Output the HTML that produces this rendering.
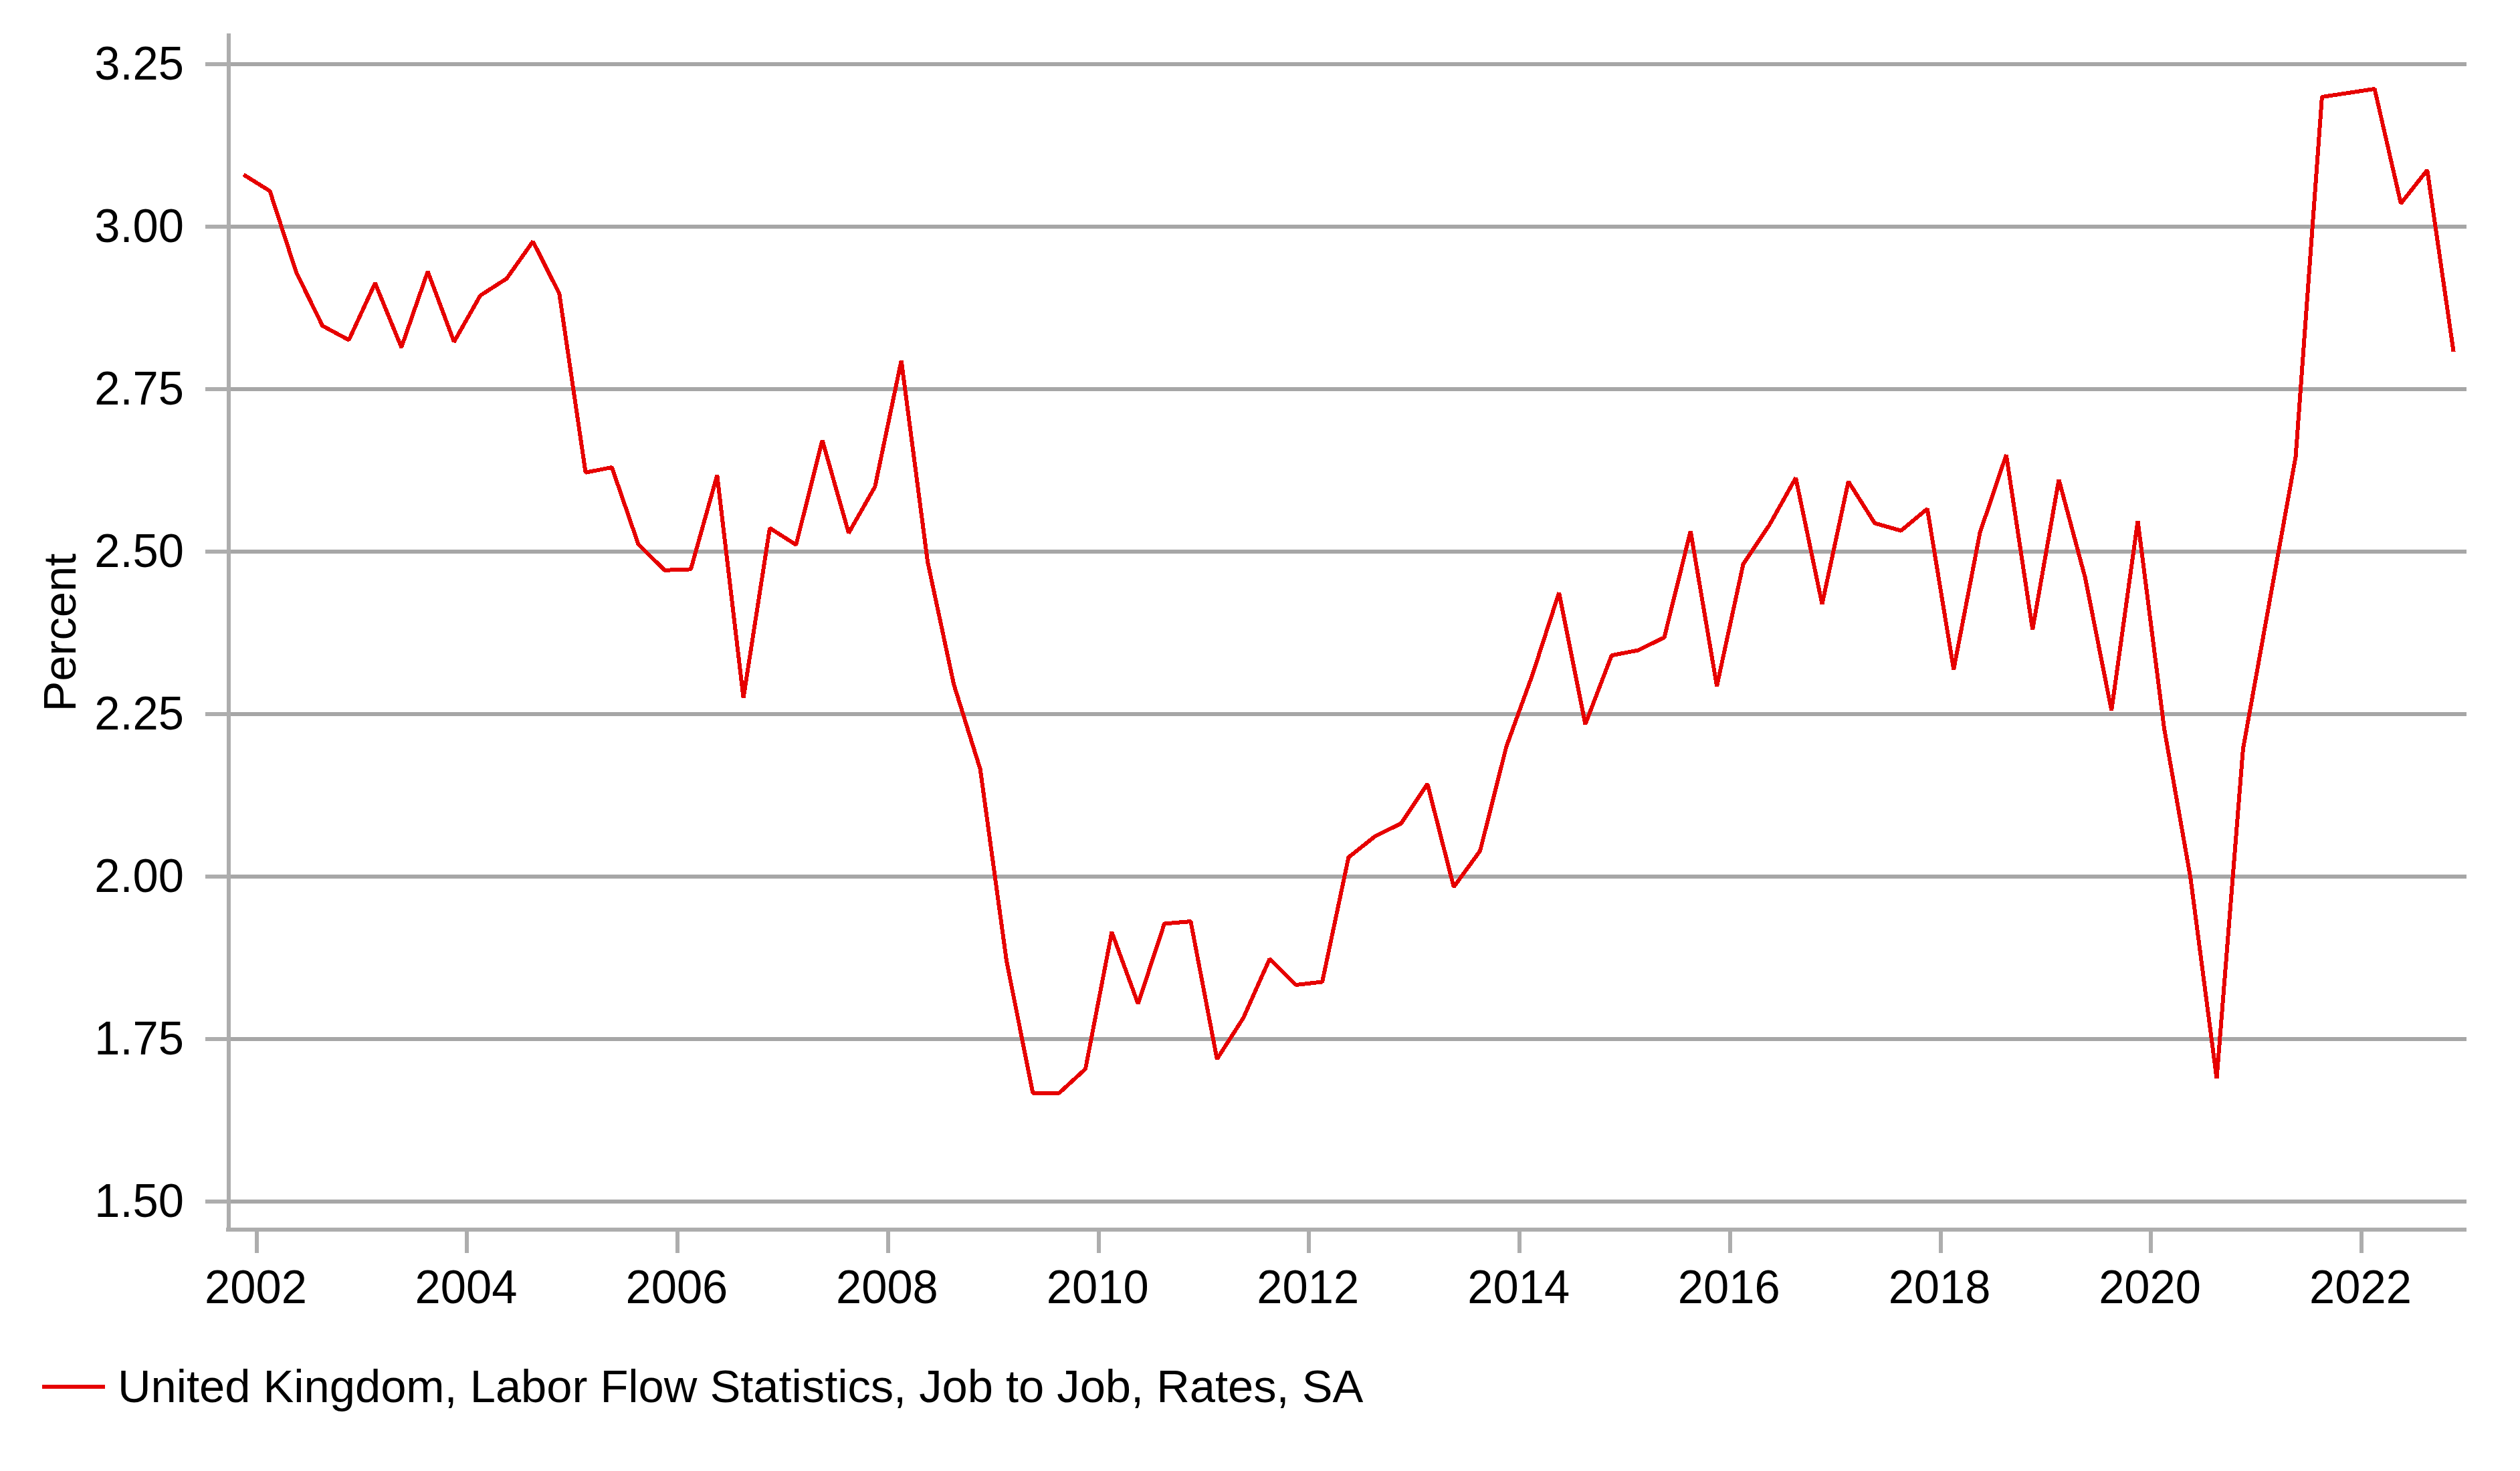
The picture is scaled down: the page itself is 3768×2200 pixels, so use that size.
<!DOCTYPE html>
<html><head><meta charset="utf-8"><title>Chart</title>
<style>
html,body{margin:0;padding:0;background:#fff;}
body{width:3768px;height:2200px;overflow:hidden;}
svg{display:block;}
text{font-family:"Liberation Sans",sans-serif;font-size:68.75px;fill:#000;}
</style></head><body>
<svg width="3768" height="2200" viewBox="0 0 3768 2200">
<rect x="0" y="0" width="3768" height="2200" fill="#ffffff"/>
<g shape-rendering="crispEdges">
<rect x="345" y="93" width="3343" height="6" fill="#a6a6a6"/>
<rect x="307" y="93" width="32" height="6" fill="#adadad"/>
<rect x="345" y="336" width="3343" height="6" fill="#a6a6a6"/>
<rect x="307" y="336" width="32" height="6" fill="#adadad"/>
<rect x="345" y="579" width="3343" height="6" fill="#a6a6a6"/>
<rect x="307" y="579" width="32" height="6" fill="#adadad"/>
<rect x="345" y="822" width="3343" height="6" fill="#a6a6a6"/>
<rect x="307" y="822" width="32" height="6" fill="#adadad"/>
<rect x="345" y="1065" width="3343" height="6" fill="#a6a6a6"/>
<rect x="307" y="1065" width="32" height="6" fill="#adadad"/>
<rect x="345" y="1308" width="3343" height="6" fill="#a6a6a6"/>
<rect x="307" y="1308" width="32" height="6" fill="#adadad"/>
<rect x="345" y="1551" width="3343" height="6" fill="#a6a6a6"/>
<rect x="307" y="1551" width="32" height="6" fill="#adadad"/>
<rect x="345" y="1794" width="3343" height="6" fill="#a6a6a6"/>
<rect x="307" y="1794" width="32" height="6" fill="#adadad"/>
<rect x="339" y="50" width="6" height="1792" fill="#adadad"/>
<rect x="338" y="1836" width="3350" height="6" fill="#adadad"/>
<rect x="381" y="1842" width="6" height="32" fill="#adadad"/>
<rect x="695" y="1842" width="6" height="32" fill="#adadad"/>
<rect x="1010" y="1842" width="6" height="32" fill="#adadad"/>
<rect x="1325" y="1842" width="6" height="32" fill="#adadad"/>
<rect x="1640" y="1842" width="6" height="32" fill="#adadad"/>
<rect x="1954" y="1842" width="6" height="32" fill="#adadad"/>
<rect x="2269" y="1842" width="6" height="32" fill="#adadad"/>
<rect x="2584" y="1842" width="6" height="32" fill="#adadad"/>
<rect x="2899" y="1842" width="6" height="32" fill="#adadad"/>
<rect x="3213" y="1842" width="6" height="32" fill="#adadad"/>
<rect x="3528" y="1842" width="6" height="32" fill="#adadad"/>
</g>
<polyline points="364.2,261.2 403.5,285.7 442.9,407.0 482.2,487.3 521.6,508.5 560.9,423.4 600.2,519.5 639.6,406.0 678.9,511.2 718.2,442.0 757.6,416.6 796.9,361.1 836.3,439.2 875.6,706.7 914.9,699.0 954.3,813.6 993.6,852.8 1032.9,851.4 1072.3,710.8 1111.6,1043.6 1151.0,789.8 1190.3,814.8 1229.6,658.5 1269.0,797.2 1308.3,728.0 1347.7,539.3 1387.0,840.0 1426.3,1024.0 1465.7,1150.4 1505.0,1437.1 1544.3,1634.7 1583.7,1634.7 1623.0,1598.7 1662.4,1394.0 1701.7,1501.2 1741.0,1381.4 1780.4,1378.1 1819.7,1583.9 1859.0,1522.6 1898.4,1434.2 1937.7,1473.0 1977.1,1468.5 2016.4,1282.2 2055.7,1251.0 2095.1,1231.4 2134.4,1172.5 2173.7,1326.6 2213.1,1272.5 2252.4,1116.6 2291.8,1008.0 2331.1,886.4 2370.4,1083.2 2409.8,980.2 2449.1,972.6 2488.5,953.4 2527.8,794.4 2567.1,1026.1 2606.5,843.8 2645.8,785.0 2685.1,714.7 2724.5,903.5 2763.8,720.1 2803.2,782.5 2842.5,793.7 2881.8,761.0 2921.2,1001.1 2960.5,796.7 2999.8,680.3 3039.2,941.4 3078.5,717.3 3117.9,864.2 3157.2,1062.6 3196.5,779.1 3235.9,1089.0 3275.2,1312.0 3314.5,1613.0 3353.9,1120.0 3393.2,901.5 3432.6,683.0 3471.9,145.0 3511.2,139.0 3550.6,133.0 3589.9,304.3 3629.3,254.3 3668.6,526.0" fill="none" stroke="#e60000" stroke-width="6" stroke-linejoin="bevel" stroke-linecap="butt" shape-rendering="crispEdges"/>
<text transform="translate(275,118.9) scale(1,1.015)" text-anchor="end">3.25</text>
<text transform="translate(275,361.9) scale(1,1.015)" text-anchor="end">3.00</text>
<text transform="translate(275,604.9) scale(1,1.015)" text-anchor="end">2.75</text>
<text transform="translate(275,847.9) scale(1,1.015)" text-anchor="end">2.50</text>
<text transform="translate(275,1090.9) scale(1,1.015)" text-anchor="end">2.25</text>
<text transform="translate(275,1333.9) scale(1,1.015)" text-anchor="end">2.00</text>
<text transform="translate(275,1576.9) scale(1,1.015)" text-anchor="end">1.75</text>
<text transform="translate(275,1819.9) scale(1,1.015)" text-anchor="end">1.50</text>
<text transform="translate(382.5,1949) scale(1,1.015)" text-anchor="middle">2002</text>
<text transform="translate(697.0,1949) scale(1,1.015)" text-anchor="middle">2004</text>
<text transform="translate(1011.9,1949) scale(1,1.015)" text-anchor="middle">2006</text>
<text transform="translate(1326.4,1949) scale(1,1.015)" text-anchor="middle">2008</text>
<text transform="translate(1641.3,1949) scale(1,1.015)" text-anchor="middle">2010</text>
<text transform="translate(1955.8,1949) scale(1,1.015)" text-anchor="middle">2012</text>
<text transform="translate(2270.7,1949) scale(1,1.015)" text-anchor="middle">2014</text>
<text transform="translate(2585.2,1949) scale(1,1.015)" text-anchor="middle">2016</text>
<text transform="translate(2900.1,1949) scale(1,1.015)" text-anchor="middle">2018</text>
<text transform="translate(3214.6,1949) scale(1,1.015)" text-anchor="middle">2020</text>
<text transform="translate(3529.5,1949) scale(1,1.015)" text-anchor="middle">2022</text>
<text transform="translate(113,1064.5) rotate(-90) scale(1,1.01)" x="0" y="0">Percent</text>
<rect x="63" y="2071" width="94" height="6" fill="#e60000" shape-rendering="crispEdges"/>
<text transform="translate(176,2096.7) scale(1,1.01)" letter-spacing="-0.034">United Kingdom, Labor Flow Statistics, Job to Job, Rates, SA</text>
</svg>
</body></html>
